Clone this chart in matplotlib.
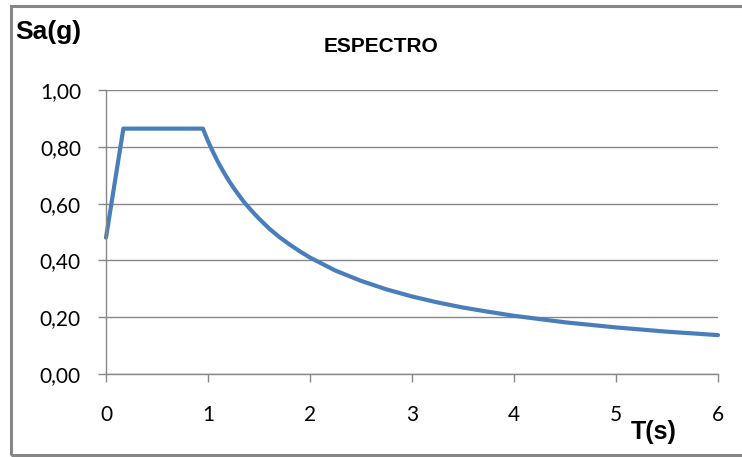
import matplotlib
matplotlib.use("Agg")
import matplotlib.pyplot as plt
from matplotlib.patches import Rectangle
from matplotlib.ticker import FuncFormatter

# Periodo T (s) y aceleracion espectral Sa (g)
periodo = [0.0, 0.17, 0.95, 1.0, 1.05, 1.1, 1.15, 1.2, 1.25, 1.3, 1.35, 1.4,
           1.45, 1.5, 1.6, 1.7, 1.8, 1.9, 2.0, 2.25, 2.5, 2.75, 3.0, 3.25,
           3.5, 3.75, 4.0, 4.5, 5.0, 5.5, 6.0]
sa = [0.48, 0.864, 0.864, 0.82, 0.781, 0.745, 0.713, 0.683, 0.656, 0.631,
      0.607, 0.586, 0.566, 0.547, 0.512, 0.482, 0.456, 0.432, 0.41, 0.364,
      0.328, 0.298, 0.273, 0.252, 0.234, 0.219, 0.205, 0.182, 0.164, 0.149,
      0.137]

x_ticks = [0, 1, 2, 3, 4, 5, 6]
y_ticks = [0.0, 0.2, 0.4, 0.6, 0.8, 1.0]

plt.rcParams["font.family"] = ["Lato", "DejaVu Sans"]

W, H = 742, 457
fig = plt.figure(figsize=(W / 100, H / 100), dpi=100)

# marco del grafico (el borde derecho queda fuera de la imagen)
fig.patches.append(Rectangle((11 / W, 1 - 455 / H), 1.0, (455 - 6) / H,
                             transform=fig.transFigure, fill=False,
                             edgecolor="#878787", linewidth=2.2))

ax = fig.add_axes([106 / W, 1 - 374 / H, (718 - 106) / W, (374 - 90) / H])
ax.plot(periodo, sa, color="#4A7EBB", linewidth=3.0, solid_joinstyle="round",
        solid_capstyle="round", clip_on=False)

ax.set_xlim(0, 6)
ax.set_ylim(0, 1.0)
ax.set_xticks(x_ticks)
ax.set_yticks(y_ticks)
ax.yaxis.set_major_formatter(FuncFormatter(lambda v, p: f"{v:.2f}".replace(".", ",")))
ax.grid(axis="y", color="#878787", linewidth=1.0)
ax.set_axisbelow(True)

for s in ["top", "right"]:
    ax.spines[s].set_visible(False)
for s in ["left", "bottom"]:
    ax.spines[s].set_color("#878787")
    ax.spines[s].set_linewidth(1.0)

ax.tick_params(axis="both", direction="out", color="#878787", width=1.0,
               length=6, labelsize=15, labelcolor="black")
ax.tick_params(axis="x", pad=16)
ax.tick_params(axis="y", pad=12)

bold = ["Liberation Sans", "DejaVu Sans"]
fig.text(15 / W, 1 - 32 / H, "Sa(g)", fontsize=19, fontweight="bold",
         family=bold, ha="left", va="center")
fig.text(381 / W, 1 - 47 / H, "ESPECTRO", fontsize=15, fontweight="bold",
         family=bold, ha="center", va="center")
fig.text(654 / W, 1 - 432 / H, "T(s)", fontsize=18, fontweight="bold",
         family=bold, ha="center", va="center")

fig.savefig("out.png", dpi=100)
